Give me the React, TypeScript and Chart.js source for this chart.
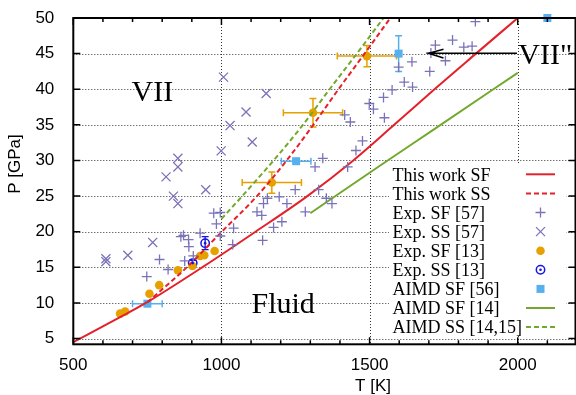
import React, { useEffect, useRef } from "react";
import { Chart, registerables } from "chart.js";
Chart.register(...registerables);

// ---- data ----
// This work SF (solid red)
const sfT = [500, 658, 745, 935, 1115, 1290, 1445, 1583, 1719, 1859, 2000];
const sfP = [4.5, 8.0, 10, 15, 20, 25, 30, 35, 40, 45, 50];
// This work SS (dashed red)
const ssT = [750, 883, 1001, 1120, 1220, 1310, 1395, 1483, 1570];
const ssP = [10.1, 15, 20, 25, 30, 35, 40, 45, 50];
// AIMD SF [14] (solid green)
const aimdSfT = [1300, 1536, 1711, 2000];
const aimdSfP = [22.6, 29.3, 34.2, 42.3];
// AIMD SS [14,15] (dashed green)
const aimdSsT = [1000, 1070, 1176, 1275, 1365, 1457, 1547];
const aimdSsP = [21.8, 25, 30, 35, 40, 45, 50];
// Exp. SF [57] (+)
const expSf57T = [748, 791, 820, 863, 872, 889, 890, 876, 905, 928, 974, 996, 983, 996, 1041, 1038,
  1120, 1136, 1142, 1155, 1195, 1221, 1176, 1204, 1139, 1249, 1283, 1328, 1354, 1373, 1316, 1342,
  1426, 1454, 1476, 1416, 1435, 1499, 1513, 1550, 1547, 1576, 1617, 1645, 1598, 1643, 1703, 1707,
  1722, 1756, 1780, 1818, 1846, 1857];
const expSf57P = [13.7, 16.1, 14.7, 19.3, 19.5, 18.9, 17.9, 15.9, 16.6, 19.8, 22.6, 22.7, 21.1, 19.4, 20.5, 18.2,
  22.8, 22.3, 23.95, 24.7, 24.9, 23.95, 20.6, 21.4, 18.8, 25.9, 22.8, 25.9, 24.7, 23.95, 29.1, 30.3,
  29.1, 31.4, 32.75, 36.4, 35.4, 38.0, 37.2, 36.0, 38.85, 39.9, 41.0, 40.3, 43.1, 43.85, 42.5, 45.1,
  46.2, 44.0, 46.9, 45.9, 46.05, 49.5];
// Exp. SS [57] (x)
const expSs57T = [610, 610, 684, 768, 813, 853, 853, 838, 853, 947, 999, 1007, 1029, 1083, 1104, 1151];
const expSs57P = [16.2, 15.8, 16.7, 18.5, 27.7, 30.3, 29.1, 25.0, 23.95, 25.9, 31.35, 41.7, 34.9, 36.8, 32.6, 39.4];
// Exp. SF [13] (orange dots)
const expSf13T = [658, 675, 757, 790, 853, 902, 928, 942, 977, 1170, 1309, 1491];
const expSf13P = [8.5, 8.8, 11.3, 12.5, 14.6, 15.2, 16.6, 16.7, 17.3, 26.9, 36.7, 44.65];
const expSf13dT = [0, 0, 0, 0, 0, 0, 0, 0, 0, 100, 100, 100];
const expSf13dP = [0, 0, 0, 0, 0, 0, 0, 0, 0, 1.5, 2, 1.5];
// Exp. SS [13] (blue circles)
const expSs13T = [903, 945];
const expSs13P = [15.6, 18.4];
const expSs13dP = [0.4, 0.9];
// AIMD SF [56] (squares)
const aimd56T = [750, 1252, 1598, 2100];
const aimd56P = [9.9, 29.9, 45.0, 50];
const aimd56dT = [50, 50, 0, 0];
const aimd56dP = [0, 0, 2.5, 0];

// ticks
const xTickLabels = [500, 1000, 1500, 2000];
const xMinorTicks = [600, 700, 800, 900, 1100, 1200, 1300, 1400, 1600, 1700, 1800, 1900, 2100];
const yTickLabels = [5, 10, 15, 20, 25, 30, 35, 40, 45, 50];

const legendLabels = [
  "This work SF", "This work SS", "Exp. SF [57]", "Exp. SS [57]", "Exp. SF [13]",
  "Exp. SS [13]", "AIMD SF [56]", "AIMD SF [14]", "AIMD SS [14,15]",
];

const RED = "#e4212b";
const GREEN = "#72a82c";
const PURPLE = "#7a73b8";
const ORANGE = "#e6a100";
const BLUE = "#1414e6";
const LBLUE = "#56b0ee";

const pts = (xs: number[], ys: number[]) => xs.map((x, i) => ({ x, y: ys[i] }));

const SERIF = "'Liberation Serif', 'DejaVu Serif', serif";
const SANS = "'Liberation Sans', Arial, sans-serif";

function drawMarker(ctx: CanvasRenderingContext2D, kind: string, x: number, y: number) {
  ctx.save();
  ctx.setLineDash([]);
  if (kind === "plus") {
    ctx.strokeStyle = PURPLE; ctx.lineWidth = 1.3;
    ctx.beginPath(); ctx.moveTo(x - 5, y); ctx.lineTo(x + 5, y); ctx.moveTo(x, y - 5); ctx.lineTo(x, y + 5); ctx.stroke();
  } else if (kind === "cross") {
    ctx.strokeStyle = PURPLE; ctx.lineWidth = 1.3;
    ctx.beginPath(); ctx.moveTo(x - 4.5, y - 4.5); ctx.lineTo(x + 4.5, y + 4.5); ctx.moveTo(x - 4.5, y + 4.5); ctx.lineTo(x + 4.5, y - 4.5); ctx.stroke();
  } else if (kind === "dot") {
    ctx.fillStyle = ORANGE; ctx.beginPath(); ctx.arc(x, y, 4.3, 0, Math.PI * 2); ctx.fill();
  } else if (kind === "circ") {
    ctx.strokeStyle = BLUE; ctx.lineWidth = 1.5; ctx.beginPath(); ctx.arc(x, y, 4.2, 0, Math.PI * 2); ctx.stroke();
    ctx.fillStyle = BLUE; ctx.beginPath(); ctx.arc(x, y, 1.3, 0, Math.PI * 2); ctx.fill();
  } else if (kind === "square") {
    ctx.fillStyle = LBLUE; ctx.fillRect(x - 4, y - 4, 8, 8);
  }
  ctx.restore();
}

const customPlugin = {
  id: "customDeco",
  beforeDatasetsDraw(chart: any) {
    const { ctx, chartArea: a, scales } = chart;
    const xs = scales.x, ys = scales.y;
    ctx.save();
    ctx.strokeStyle = "#333"; ctx.lineWidth = 1; ctx.setLineDash([1, 2]);
    for (const v of yTickLabels) {
      if (v >= 50) continue;
      const py = Math.round(ys.getPixelForValue(v)) + 0.5;
      ctx.beginPath(); ctx.moveTo(a.left, py); ctx.lineTo(a.right, py); ctx.stroke();
    }
    for (const v of xTickLabels) {
      if (v <= 500) continue;
      const px = Math.round(xs.getPixelForValue(v)) + 0.5;
      ctx.beginPath(); ctx.moveTo(px, a.top); ctx.lineTo(px, a.bottom); ctx.stroke();
    }
    ctx.setLineDash([]);
    // error bars
    const bar = (color: string, T: number[], P: number[], dT: number[], dP: number[], w: number) => {
      ctx.strokeStyle = color; ctx.lineWidth = w;
      for (let i = 0; i < T.length; i++) {
        const px = xs.getPixelForValue(T[i]), py = ys.getPixelForValue(P[i]);
        if (dT[i] > 0) {
          const l = xs.getPixelForValue(T[i] - dT[i]), r = xs.getPixelForValue(T[i] + dT[i]);
          ctx.beginPath(); ctx.moveTo(l, py); ctx.lineTo(r, py);
          ctx.moveTo(l, py - 3.5); ctx.lineTo(l, py + 3.5); ctx.moveTo(r, py - 3.5); ctx.lineTo(r, py + 3.5); ctx.stroke();
        }
        if (dP[i] > 0) {
          const t = ys.getPixelForValue(P[i] + dP[i]), b = ys.getPixelForValue(P[i] - dP[i]);
          ctx.beginPath(); ctx.moveTo(px, t); ctx.lineTo(px, b);
          ctx.moveTo(px - 3.5, t); ctx.lineTo(px + 3.5, t); ctx.moveTo(px - 3.5, b); ctx.lineTo(px + 3.5, b); ctx.stroke();
        }
      }
    };
    bar(ORANGE, expSf13T, expSf13P, expSf13dT, expSf13dP, 1.5);
    bar(LBLUE, aimd56T, aimd56P, aimd56dT, aimd56dP, 1.5);
    bar(BLUE, expSs13T, expSs13P, expSs13T.map(() => 0), expSs13dP, 1.3);
    ctx.restore();
  },
  afterDatasetsDraw(chart: any) {
    const { ctx } = chart;
    ctx.save();
    // blue circle centres
    ctx.fillStyle = BLUE;
    for (let i = 0; i < expSs13T.length; i++) {
      const px = chart.scales.x.getPixelForValue(expSs13T[i]);
      const py = chart.scales.y.getPixelForValue(expSs13P[i]);
      ctx.beginPath(); ctx.arc(px, py, 1.3, 0, Math.PI * 2); ctx.fill();
    }
    // annotations
    ctx.fillStyle = "#000";
    ctx.font = `30px ${SERIF}`;
    ctx.textAlign = "left"; ctx.textBaseline = "alphabetic";
    ctx.fillText("VII", 131.5, 100.7);
    ctx.fillText("Fluid", 251.5, 313.3);
    ctx.fillText("VII\"", 518.3, 63.5);
    // arrow
    ctx.strokeStyle = "#000"; ctx.lineWidth = 1.5;
    ctx.beginPath();
    ctx.moveTo(517, 53.3); ctx.lineTo(428.5, 53.3);
    ctx.moveTo(443.5, 49.3); ctx.lineTo(428.5, 53.3); ctx.lineTo(443.5, 58);
    ctx.stroke();
    // legend
    ctx.fillStyle = "#fff";
    ctx.fillRect(389, 163, 177, 173);
    ctx.font = `18px ${SERIF}`;
    ctx.fillStyle = "#000";
    const kinds = ["redSolid", "redDash", "plus", "cross", "dot", "circ", "square", "greenSolid", "greenDash"];
    legendLabels.forEach((lab, i) => {
      const yc = 174.3 + i * 19.1;
      ctx.fillStyle = "#000";
      ctx.fillText(lab, 392.5, yc + 6.3);
      const k = kinds[i];
      if (k === "redSolid" || k === "redDash" || k === "greenSolid" || k === "greenDash") {
        ctx.save();
        ctx.strokeStyle = k.startsWith("red") ? RED : GREEN;
        ctx.lineWidth = 2;
        ctx.setLineDash(k.endsWith("Dash") ? [5, 3] : []);
        ctx.beginPath(); ctx.moveTo(526, yc); ctx.lineTo(555, yc); ctx.stroke();
        ctx.restore();
      } else {
        drawMarker(ctx, k, 540.5, yc);
      }
    });
    ctx.restore();
  },
  afterDraw(chart: any) {
    const { ctx, chartArea: a, scales } = chart;
    const xs = scales.x, ys = scales.y;
    ctx.save();
    ctx.strokeStyle = "#000"; ctx.setLineDash([]);
    ctx.lineWidth = 1.5;
    ctx.beginPath();
    for (const v of xTickLabels) {
      const px = xs.getPixelForValue(v);
      ctx.moveTo(px, a.bottom); ctx.lineTo(px, a.bottom - 7);
      ctx.moveTo(px, a.top); ctx.lineTo(px, a.top + 7);
    }
    for (const v of xMinorTicks) {
      const px = xs.getPixelForValue(v);
      ctx.moveTo(px, a.bottom); ctx.lineTo(px, a.bottom - 4);
      ctx.moveTo(px, a.top); ctx.lineTo(px, a.top + 4);
    }
    for (const v of yTickLabels) {
      const py = ys.getPixelForValue(v);
      ctx.moveTo(a.left, py); ctx.lineTo(a.left + 7, py);
      ctx.moveTo(a.right, py); ctx.lineTo(a.right - 7, py);
    }
    ctx.stroke();
    ctx.lineWidth = 2;
    ctx.strokeRect(a.left, a.top, a.right - a.left, a.bottom - a.top);
    // axis titles
    ctx.fillStyle = "#000";
    ctx.font = `17px ${SANS}`;
    ctx.textAlign = "center"; ctx.textBaseline = "middle";
    ctx.fillText("T [K]", 373, 386);
    ctx.translate(15, 164);
    ctx.rotate(-Math.PI / 2);
    ctx.fillText("P [GPa]", 0, 0);
    ctx.restore();
  },
};

export default function App() {
  const ref = useRef<HTMLCanvasElement | null>(null);
  useEffect(() => {
    if (!ref.current) return;
    const line = (data: any[], color: string, dash: number[]) => ({
      type: "line" as const,
      data,
      borderColor: color,
      backgroundColor: color,
      borderWidth: 2,
      borderDash: dash,
      pointRadius: 0,
      showLine: true,
      fill: false,
      tension: 0,
      cubicInterpolationMode: "monotone" as const,
    });
    const chart = new Chart(ref.current, {
      type: "scatter",
      data: {
        datasets: [
          {
            data: pts(expSf57T, expSf57P), pointStyle: "cross", pointRadius: 5,
            borderColor: PURPLE, backgroundColor: PURPLE, borderWidth: 1.3,
          } as any,
          {
            data: pts(expSs57T, expSs57P), pointStyle: "crossRot", pointRadius: 6.4,
            borderColor: PURPLE, backgroundColor: PURPLE, borderWidth: 1.3,
          } as any,
          line(pts(sfT, sfP), RED, []),
          line(pts(ssT, ssP), RED, [5, 3]),
          line(pts(aimdSfT, aimdSfP), GREEN, []),
          line(pts(aimdSsT, aimdSsP), GREEN, [5, 3]),
          {
            data: pts(expSf13T, expSf13P), pointStyle: "circle", pointRadius: 4.3,
            borderWidth: 0, backgroundColor: ORANGE, borderColor: ORANGE,
          } as any,
          {
            data: pts(expSs13T, expSs13P), pointStyle: "circle", pointRadius: 4.2,
            borderWidth: 1.5, backgroundColor: "rgba(0,0,0,0)", borderColor: BLUE,
          } as any,
          {
            data: pts(aimd56T, aimd56P), pointStyle: "rect", pointRadius: 5.66,
            borderWidth: 0, backgroundColor: LBLUE, borderColor: LBLUE, clip: false,
          } as any,
        ],
      },
      options: {
        animation: false,
        responsive: false,
        devicePixelRatio: 1,
        layout: { autoPadding: false, padding: { top: 18, right: 0.5, left: 0, bottom: 0 } },
        plugins: { legend: { display: false }, tooltip: { enabled: false } },
        scales: {
          x: {
            type: "linear", min: 500, max: 2195,
            grid: { display: false }, border: { display: false },
            ticks: {
              color: "#000", font: { family: SANS, size: 17 }, padding: 3, maxRotation: 0,
              callback: (v: any) => String(v),
            },
            afterBuildTicks: (s: any) => { s.ticks = xTickLabels.map((v) => ({ value: v })); },
            afterFit: (s: any) => { s.height = 50.7; s.paddingLeft = 0; s.paddingRight = 0; },
          },
          y: {
            type: "linear", min: 4.2, max: 50,
            grid: { display: false }, border: { display: false },
            ticks: {
              color: "#000", font: { family: SANS, size: 17 }, padding: 11,
              callback: (v: any) => String(v),
            },
            afterBuildTicks: (s: any) => { s.ticks = yTickLabels.map((v) => ({ value: v })); },
            afterFit: (s: any) => { s.width = 73.3; s.paddingTop = 0; s.paddingBottom = 0; },
          },
        },
      },
      plugins: [customPlugin],
    } as any);
    return () => chart.destroy();
  }, []);
  return (
    <div style={{ position: "fixed", left: 0, top: 0, width: 576, height: 395, background: "#fff" }}>
      <canvas ref={ref} width={576} height={395} style={{ width: 576, height: 395, display: "block" }} />
    </div>
  );
}
